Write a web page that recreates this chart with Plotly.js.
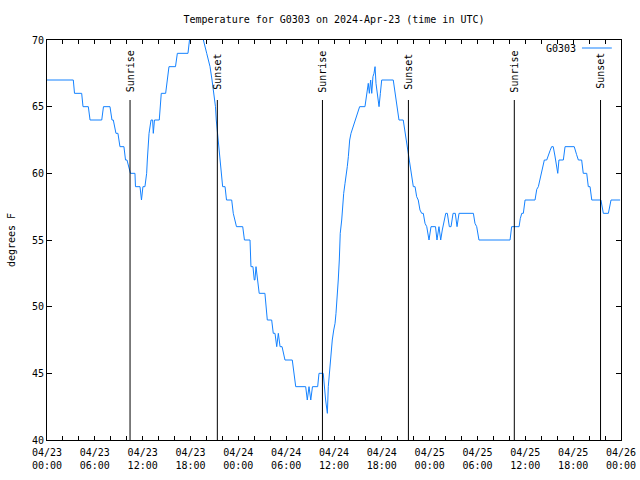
<!DOCTYPE html>
<html>
<head>
<meta charset="utf-8">
<script src="https://cdn.plot.ly/plotly-3.0.1.min.js"></script>
<style>html,body{margin:0;padding:0;background:#fff;}#chart{width:640px;height:480px;}</style>
</head>
<body>
<div id="chart"></div>
<script>
// Temperature readings (deg F), times in UTC, per day
const times23 = ["00:00","03:18","03:27","04:21","04:31","05:11","05:24","06:52","07:05","07:54","08:09","08:19","08:39","08:54","09:09","09:39","09:51","10:02","10:28","11:02","11:06","11:40","11:51","12:02","12:17","12:30","12:35","12:48","13:03","13:15","13:20","13:29","14:05","14:13","14:20","14:53","15:03","15:18","16:07","16:21","17:41","17:53","18:04","19:19","19:37","20:02","20:27","20:42","20:57","21:08","21:14","21:23","21:35","21:46","21:52","22:02","22:20","22:31","23:10","23:22","23:46"];
const temps23 = [67,67,66,66,65,65,64,64,65,65,64,64,63,63,62,62,61,61,60,60,59,59,58,59,59,60,61,63,64,64,63,64,64,65,66,66,67,68,68,69,69,70,71,71,70,69,68,67,66,65,64,63,62,61,60,59,59,58,58,57,56];

const times24 = ["00:33","00:46","01:28","01:35","01:50","02:00","02:05","02:13","02:23","02:37","03:20","03:28","03:38","04:11","04:23","04:36","04:49","05:01","05:14","05:29","05:51","06:46","06:59","07:12","08:27","08:39","08:52","09:05","09:18","09:57","10:07","10:39","10:57","11:10","11:17","11:25","11:34","11:41","11:47","11:58","12:08","12:15","12:23","12:32","12:40","12:47","12:58","13:05","13:13","13:23","13:31","13:40","13:48","13:58","14:08","14:21","14:31","14:40","15:03","15:13","15:53","16:06","16:18","16:26","16:36","16:44","16:53","17:01","17:09","17:16","17:26","17:39","17:49","17:59","19:26","19:39","19:54","20:09","20:41","20:49","21:00","21:15","21:25","21:40","21:52","21:57","22:10","22:22","22:34","22:47","23:00","23:12","23:25","23:38","23:55"];
const temps24 = [56,55,55,53,53,52,52,53,52,51,51,50,49,49,48,48,47,48,47,47,46,46,45,44,44,43,44,43,44,44,45,45,43,42,44,45,46,47,47.5,48.25,48.75,49.5,50.5,52,53.5,55.5,56.5,57.5,58.5,59.25,59.75,60.5,61.25,62.5,63,63.4,63.75,64,64.75,65,65,66,66.75,66,67,66,67.25,67.5,68,66.75,66,65,66,67,67,66,65,64,64,63.5,62.5,61.75,61,60.25,59.5,59,59,58.25,58,57.25,57,57,56.25,56,55];

const times25 = ["00:10","00:44","00:55","01:10","01:23","01:35","01:50","02:01","02:13","02:28","02:41","02:56","03:13","03:26","03:41","05:29","05:41","05:54","06:11","10:05","10:17","11:13","11:22","11:33","11:45","11:58","13:13","13:26","13:38","13:50","14:03","14:23","14:41","14:53","15:06","15:18","15:30","15:43","15:56","16:04","16:13","16:46","16:59","18:08","18:26","18:39","19:04","19:16","19:42","19:54","20:07","20:20","21:29","21:47","22:25","22:45","23:53"];
const temps25 = [56,56,55,56,55,55.75,56.5,57,57,56,56,57,57,56,57,57,56.25,56,55,55,56,56,56.6,57,57,58,58,58.8,59,59.5,60,61,61,61.4,61.7,62,62,61.3,60.5,60,61,61,62,62,61.4,61,61,60,60,59,59,58,58,57,57,58,58];

const sunriseTimes = ["2024-04-23 10:25","2024-04-24 10:33","2024-04-25 10:37"];
const sunsetTimes  = ["2024-04-23 21:22","2024-04-24 21:20","2024-04-25 21:26"];

const seriesName = "G0303";
const titleText = "Temperature for G0303 on 2024-Apr-23 (time in UTC)";

const x = [].concat(
  times23.map(t => "2024-04-23 " + t),
  times24.map(t => "2024-04-24 " + t),
  times25.map(t => "2024-04-25 " + t)
);
const y = [].concat(temps23, temps24, temps25);

const FONT = "DejaVu Sans Mono";
const lineColor = "rgb(20,130,255)";

const shapes = [];
const annotations = [];
function marker(t, label) {
  shapes.push({type: "line", xref: "x", yref: "y", x0: t, x1: t, y0: 40, y1: 65.5,
               line: {color: "black", width: 1}});
  annotations.push({x: t, y: 67.65, xref: "x", yref: "y", text: label, showarrow: false,
                    textangle: -90, xanchor: "center", yanchor: "middle",
                    font: {family: FONT, size: 10, color: "black"}});
}
sunriseTimes.forEach(t => marker(t, "Sunrise"));
sunsetTimes.forEach(t => marker(t, "Sunset"));

// legend (gnuplot style: label then line sample)
annotations.push({x: 0.925, y: 0.98, xref: "paper", yref: "paper", text: seriesName,
                  showarrow: false, xanchor: "right", yanchor: "middle",
                  font: {family: FONT, size: 10, color: "black"}});
shapes.push({type: "line", xref: "paper", yref: "paper", x0: 0.932, x1: 0.984, y0: 0.98, y1: 0.98,
             line: {color: lineColor, width: 1}});

const trace = {x: x, y: y, type: "scatter", mode: "lines", name: seriesName,
               line: {color: lineColor, width: 1}, showlegend: false, cliponaxis: true};

const layout = {
  width: 640, height: 480,
  margin: {l: 47, r: 19, t: 40, b: 40, pad: 0},
  paper_bgcolor: "white", plot_bgcolor: "white",
  font: {family: FONT, size: 10, color: "black"},
  title: {text: titleText, x: 0.5, xref: "paper", y: 1 - 19/480, yref: "container",
          xanchor: "center", yanchor: "middle", font: {family: FONT, size: 10, color: "black"}},
  xaxis: {type: "date", range: ["2024-04-23 00:00", "2024-04-26 00:00"],
          tick0: "2024-04-23 00:00", dtick: 6*3600000, tickformat: "%m/%d<br>%H:%M",
          ticks: "inside", ticklen: 4, tickcolor: "black", showline: true, linecolor: "black",
          linewidth: 1, mirror: "ticks", showgrid: false, zeroline: false, ticklabelstandoff: 3,
          minor: {dtick: 2*3600000, ticks: "inside", ticklen: 4, tickcolor: "black", showgrid: false},
          tickfont: {family: FONT, size: 10, color: "black"}},
  yaxis: {range: [40, 70], dtick: 5, tick0: 40, ticks: "inside", ticklen: 5, tickcolor: "black",
          showline: true, linecolor: "black", linewidth: 1, mirror: "ticks", showgrid: false,
          zeroline: false, tickfont: {family: FONT, size: 10, color: "black"},
          title: {text: "degrees F", standoff: 14, font: {family: FONT, size: 10, color: "black"}}},
  shapes: shapes,
  annotations: annotations
};

Plotly.newPlot("chart", [trace], layout, {displayModeBar: false, staticPlot: true});
</script>
</body>
</html>
